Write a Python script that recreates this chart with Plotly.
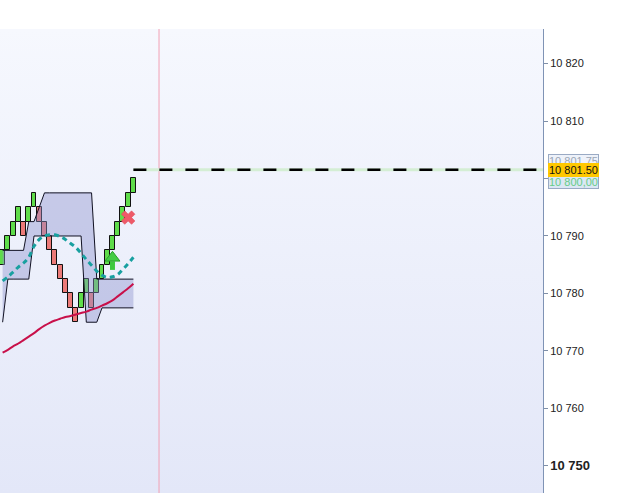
import base64
import plotly.graph_objects as go

# ---------------- data ----------------
cols = list(range(26))
brick_size = 2.5
brick_low = [10785, 10787.5, 10790, 10792.5, 10790, 10792.5, 10795, 10792.5, 10790, 10787.5,
             10785, 10782.5, 10780, 10777.5, 10775, 10777.5, 10780, 10777.5, 10780, 10782.5,
             10785, 10787.5, 10790, 10792.5, 10795, 10797.5]
brick_up = [1, 1, 1, 1, 0, 1, 1, 0, 0, 0,
            0, 0, 0, 0, 0, 1, 1, 0, 1, 1,
            1, 1, 1, 1, 1, 1]
cloud_upper = [10787.5, 10787.5, 10787.5, 10787.5, 10787.5, 10792.5, 10792.5, 10795, 10797.5, 10797.5,
               10797.5, 10797.5, 10797.5, 10797.5, 10797.5, 10797.5, 10797.5, 10797.5, 10782.5, 10782.5,
               10782.5, 10782.5, 10782.5, 10782.5, 10782.5, 10782.5]
cloud_lower = [10775, 10782.5, 10782.5, 10782.5, 10782.5, 10782.5, 10790, 10790, 10790, 10790,
               10790, 10790, 10790, 10790, 10790, 10790, 10775, 10775, 10775, 10777.5,
               10777.5, 10777.5, 10777.5, 10777.5, 10777.5, 10777.5]
ma_fast = [10782.2, 10782.9, 10783.7, 10784.6, 10785.3, 10786.3, 10788.2, 10789.4, 10790.0, 10790.2,
           10790.2, 10789.9, 10789.4, 10788.7, 10788.0, 10787.0, 10785.9, 10784.9, 10783.9, 10783.2,
           10782.8, 10782.9, 10783.3, 10784.2, 10785.2, 10786.3]
ma_slow = [10769.7, 10770.2, 10770.8, 10771.3, 10771.9, 10772.5, 10773.1, 10773.8, 10774.4, 10774.9,
           10775.3, 10775.6, 10775.9, 10776.1, 10776.35, 10776.6, 10776.85, 10777.2, 10777.5, 10777.9,
           10778.3, 10778.8, 10779.5, 10780.2, 10780.9, 10781.7]
buy_signal = (21, 10785.6)
exit_signal = (24, 10793.2)
session_break = 29.9
last_price = 10801.5
price_tags = ["10 801.75", "10 801.50", "10 800,00"]
tick_vals = [10750, 10760, 10770, 10780, 10790, 10800, 10810, 10820]
tick_text = ["<b><span style='font-size:13px'>10 750</span></b>", "10 760", "10 770", "10 780",
             "10 790", "", "10 810", "10 820"]
x_range = [-0.5, 103.3]
y_range = [10745.3, 10826.0]

# ---------------- figure ----------------
fig = go.Figure()

# cloud
fig.add_trace(go.Scatter(x=cols, y=cloud_lower, mode="lines",
                         line=dict(color="#111122", width=1), hoverinfo="skip", showlegend=False))
fig.add_trace(go.Scatter(x=cols, y=cloud_upper, mode="lines", fill="tonexty",
                         fillcolor="rgba(140,145,205,0.42)",
                         line=dict(color="#111122", width=1), hoverinfo="skip", showlegend=False))

# moving averages
fig.add_trace(go.Scatter(x=cols, y=ma_slow, mode="lines",
                         line=dict(color="#c8104a", width=2, shape="spline"), showlegend=False))
fig.add_trace(go.Scatter(x=cols, y=ma_fast, mode="lines",
                         line=dict(color="#18a0a0", width=3, dash="5px,4px", shape="spline"),
                         showlegend=False))

# renko bricks
colors = ["#5fdc4a" if u else "#ec7a78" for u in brick_up]
fig.add_trace(go.Bar(x=cols, y=[brick_size] * len(cols), base=brick_low, width=0.95,
                     marker=dict(color=colors, line=dict(color="#111111", width=1)),
                     showlegend=False))

# signals: buy arrow (stem + head) and exit cross
bx, by = buy_signal
fig.add_trace(go.Scatter(x=[bx, bx], y=[by - 1.5, by], mode="lines",
                         line=dict(color="#3ec93e", width=5), showlegend=False, hoverinfo="skip"))
fig.add_trace(go.Scatter(x=[bx], y=[by + 0.6], mode="markers",
                         marker=dict(symbol="triangle-up", size=13, color="#44cc44",
                                     line=dict(color="#2aa02a", width=1)), showlegend=False))
fig.add_trace(go.Scatter(x=[exit_signal[0]], y=[exit_signal[1]], mode="markers",
                         marker=dict(symbol="x", size=12, color="#ee5a68",
                                     line=dict(color="#dd4455", width=0.5)), showlegend=False))

# shapes: session break and last price
fig.add_shape(type="line", xref="x", yref="paper", x0=session_break, x1=session_break, y0=0, y1=1,
              line=dict(color="#f2a0b4", width=1))
fig.add_shape(type="line", xref="x", yref="y", x0=cols[-1], x1=x_range[1], y0=last_price, y1=last_price,
              line=dict(color="#d4eed4", width=3))
fig.add_shape(type="line", xref="x", yref="y", x0=cols[-1], x1=x_range[1] + 0.9, y0=last_price, y1=last_price,
              line=dict(color="#000000", width=2.5, dash="13px,13px"))

# price tags on axis
tag_styles = [
    dict(yshift=9, font_color="#9aa6b6", bg="#eef2fa", border="#9aaac4"),
    dict(yshift=-12, font_color="#66cc88", bg="#dbe7f4", border="#9aaac4"),
    dict(yshift=0, font_color="#111111", bg="#ffc800", border="#ffc800"),
]
order = [0, 2, 1]
for k, st in zip(order, tag_styles):
    fig.add_annotation(xref="paper", yref="y", x=1.0092, y=last_price, xanchor="left", yanchor="middle",
                       text=price_tags[k], showarrow=False, yshift=st["yshift"],
                       font=dict(family="Liberation Sans, Arial", size=11, color=st["font_color"]),
                       bgcolor=st["bg"], bordercolor=st["border"], borderwidth=1, borderpad=0)

# gradient background for the plot area
svg = ("<svg xmlns='http://www.w3.org/2000/svg' width='10' height='100' preserveAspectRatio='none'>"
       "<defs><linearGradient id='g' x1='0' y1='0' x2='0' y2='1'>"
       "<stop offset='0' stop-color='#f6f8fe'/><stop offset='1' stop-color='#e3e7f8'/>"
       "</linearGradient></defs><rect width='10' height='100' fill='url(#g)'/></svg>")
bg_src = "data:image/svg+xml;base64," + base64.b64encode(svg.encode()).decode()

fig.update_layout(
    width=632, height=493,
    margin=dict(l=0, r=89, t=29, b=0),
    paper_bgcolor="#ffffff", plot_bgcolor="rgba(0,0,0,0)",
    bargap=0, showlegend=False,
    images=[dict(source=bg_src, xref="paper", yref="paper", x=0, y=1, sizex=1, sizey=1,
                 xanchor="left", yanchor="top", sizing="stretch", layer="below")],
    xaxis=dict(range=x_range, visible=False, showgrid=False, zeroline=False),
    yaxis=dict(range=y_range, side="right", showgrid=False, zeroline=False,
               tickvals=tick_vals, ticktext=tick_text, ticks="outside", ticklen=4,
               tickcolor="#7f8fa8", showline=True, linecolor="#7f93b5", linewidth=1,
               tickfont=dict(family="Liberation Sans, Arial", size=11, color="#222222")),
)

fig.write_html("out.html", config={"displayModeBar": False},
               post_script="document.body.style.margin='0';document.body.style.overflow='hidden';")
